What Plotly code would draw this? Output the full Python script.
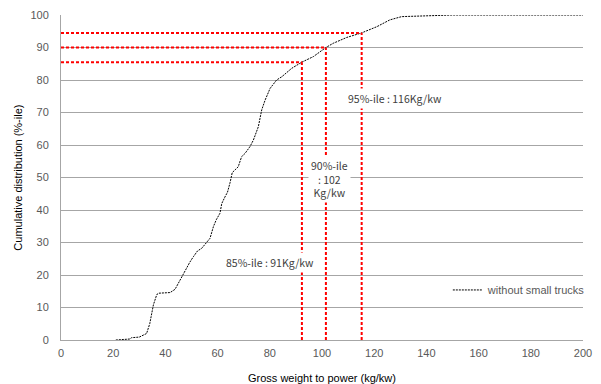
import plotly.graph_objects as go

# Cumulative distribution curve (without small trucks)
weight_to_power = [21, 24, 26.4, 27, 30, 32.8, 34, 35.4, 36.7, 37.5, 41.8, 43.7, 46.2, 48.2, 49.4,
                   50.7, 52.3, 53.9, 56.4, 57.1, 58.4, 59.5, 60.9, 61.6, 62.8, 63.8, 64.8, 65.6,
                   67.9, 69.2, 70.5, 72.4, 73.7, 75.6, 76.9, 78.2, 80.1, 82.6, 84.6, 88.4, 92.3,
                   96.7, 101.5, 104.3, 109.5, 115.2, 121, 126, 130.5, 136.3, 140.6, 150, 200]
cumulative = [0, 0.1, 0.3, 0.7, 0.9, 2, 5, 10.8, 14, 14.4, 14.6, 15.6, 19.5, 22.5, 24,
              25.6, 27.4, 28.2, 30.8, 31.3, 34.9, 37, 39, 42, 44, 45.5, 48.5, 51.5,
              53.3, 56.4, 57.4, 59.5, 61.5, 65.6, 70.8, 73.8, 77.4, 80, 81, 83.6, 85.5,
              87.2, 90, 91.3, 93.1, 94.5, 96.4, 98.5, 99.5, 99.7, 99.8, 100, 100]

# Percentile markers
pct_levels = [85.5, 90, 94.5]
pct_values = [92.3, 101.5, 115.2]

# Annotation labels and positions
label_texts = ["85%-ile : 91Kg/kw", "90%-ile<br>: 102<br>Kg/kw", "95%-ile : 116Kg/kw"]
label_x = [79.9, 103, 128]
label_y = [24, 49.5, 74.2]

x_ticks = list(range(0, 201, 20))
y_ticks = list(range(0, 101, 10))

fig = go.Figure()

fig.add_trace(go.Scatter(
    x=weight_to_power, y=cumulative, mode="lines",
    line=dict(color="#000000", width=1, dash="2px,1px"),
    name="without small trucks", showlegend=True,
))

shapes = []
for lvl, val in zip(pct_levels, pct_values):
    shapes.append(dict(type="line", xref="x", yref="y", x0=0, x1=val, y0=lvl, y1=lvl,
                       line=dict(color="#ff0000", width=2, dash="3px,2px"), layer="above"))
    shapes.append(dict(type="line", xref="x", yref="y", x0=val, x1=val, y0=0, y1=lvl,
                       line=dict(color="#ff0000", width=2, dash="3px,2px"), layer="above"))

annotations = []
for t, ax_, ay_ in zip(label_texts, label_x, label_y):
    annotations.append(dict(x=ax_, y=ay_, xref="x", yref="y", text=t, showarrow=False,
                            font=dict(family="Noto Sans CJK KR, sans-serif", size=10.5, color="#404040"),
                            bgcolor="#ffffff", borderpad=2))

# axis titles as paper annotations for exact placement
annotations.append(dict(x=0.5, y=-0.117, xref="paper", yref="paper", yanchor="middle",
                        text="Gross weight to power (kg/kw)", showarrow=False,
                        font=dict(color="#000000", size=11)))
annotations.append(dict(x=-0.084, y=0.5, xref="paper", yref="paper", xanchor="center",
                        yanchor="middle",
                        text="Cumulative distribution (%-ile)", showarrow=False, textangle=-90,
                        font=dict(color="#000000", size=11)))

fig.update_layout(
    width=601, height=384,
    margin=dict(l=61, r=18, t=15, b=44, autoexpand=False),
    paper_bgcolor="#ffffff", plot_bgcolor="#ffffff",
    shapes=shapes, annotations=annotations,
    font=dict(family="Liberation Sans, Arial, sans-serif", size=11, color="#595959"),
    legend=dict(x=1.015, y=0.154, xanchor="right", yanchor="middle",
                bgcolor="rgba(255,255,255,0)", font=dict(size=11, color="#595959"),
                itemwidth=30),
    xaxis=dict(range=[0, 200], tickvals=x_ticks, showgrid=False, zeroline=False,
               showline=True, linecolor="#a6a6a6", linewidth=1, ticks="", automargin=False,
               ticklabelstandoff=3,
               tickfont=dict(color="#595959", size=11)),
    yaxis=dict(range=[0, 100], tickvals=y_ticks, showgrid=True, gridcolor="#a6a6a6", gridwidth=1,
               zeroline=False, showline=True, linecolor="#a6a6a6", linewidth=1, ticks="",
               automargin=False, ticklabelstandoff=9,
               tickfont=dict(color="#595959", size=11)),
)

fig.write_html("out.html")
